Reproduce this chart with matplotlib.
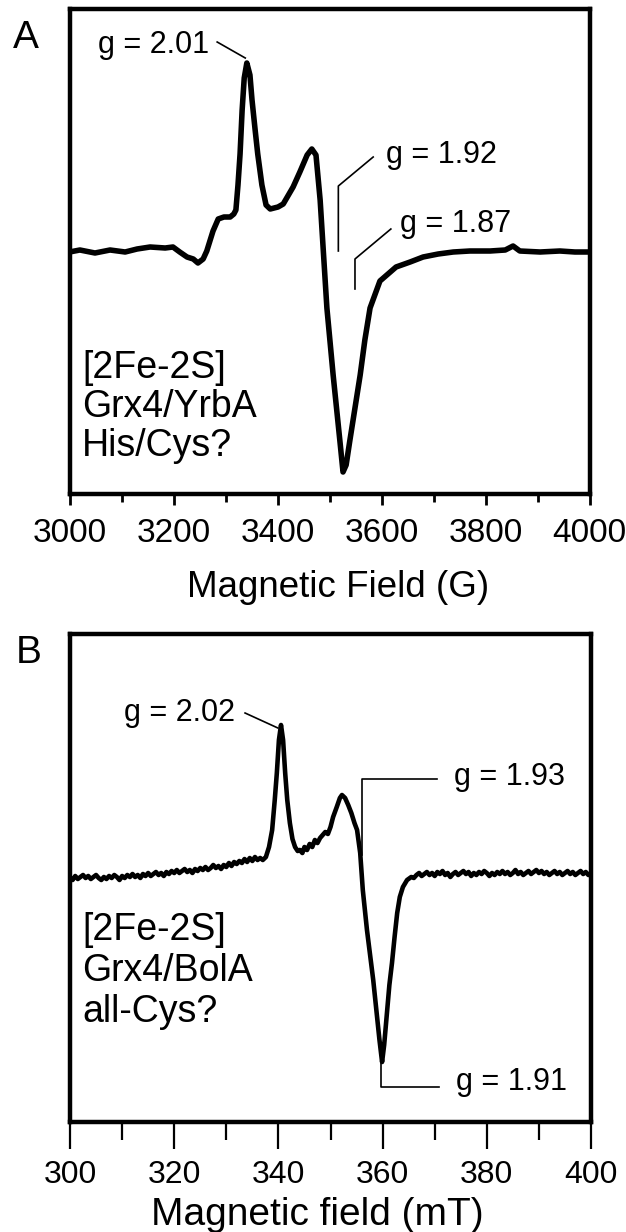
import matplotlib
matplotlib.use("Agg")
import matplotlib.pyplot as plt

plt.rcParams['font.family'] = ['Liberation Sans', 'DejaVu Sans']

# Panel A: Grx4/YrbA, field in G, intensity in arbitrary units
field_a = [3000, 3020, 3049, 3078, 3107, 3130, 3155, 3184, 3199, 3212, 3226, 3238,
           3247, 3257, 3264, 3276, 3286, 3297, 3309, 3316, 3320, 3324, 3328, 3332,
           3336, 3341, 3347, 3351, 3357, 3362, 3370, 3378, 3386, 3401, 3411, 3430,
           3443, 3457, 3466, 3474, 3482, 3488, 3495, 3507, 3520, 3526, 3532, 3539,
           3549, 3559, 3568, 3578, 3597, 3628, 3655, 3680, 3709, 3738, 3770, 3809,
           3838, 3853, 3866, 3905, 3943, 3972, 4000]
signal_a = [0, 2, -1, 2, 0, 3, 5, 4, 5, 0, -5, -7,
            -11, -7, 1, 21, 33, 35, 35, 38, 42, 67, 98, 142,
            174, 189, 177, 152, 122, 98, 67, 47, 43, 45, 48, 65,
            80, 97, 103, 97, 52, 2, -56, -123, -189, -220, -213, -189,
            -156, -123, -88, -56, -29, -15, -10, -5, -2, 0, 1, 1,
            2, 6, 1, 0, 1, 0, 0]

# Panel B: Grx4/BolA, field in mT (noisy trace read point by point)
field_b = [300, 300.5, 301, 301.5, 302, 302.5, 303, 303.5, 304, 304.5,
           305, 305.5, 306, 306.5, 307, 307.5, 308, 308.5, 309, 309.5,
           310, 310.5, 311, 311.5, 312, 312.5, 313, 313.5, 314, 314.5,
           315, 315.5, 316, 316.5, 317, 317.5, 318, 318.5, 319, 319.5,
           320, 320.5, 321, 321.5, 322, 322.5, 323, 323.5, 324, 324.5,
           325, 325.5, 326, 326.5, 327, 327.5, 328, 328.5, 329, 329.5,
           330, 330.5, 331, 331.5, 332, 332.5, 333, 333.5, 334, 334.5,
           335, 335.5, 336, 336.5, 337,
           337.6, 338.2, 338.8, 339.3, 339.7, 340.1, 340.5, 340.9, 341.3, 341.7,
           342.2, 342.7, 343.2, 343.7, 344.1, 344.6, 345, 345.5, 346, 346.5,
           347, 347.5, 348, 348.5, 349, 349.5, 350, 350.5, 351.2, 351.8,
           352.2, 352.8, 353.4, 354, 354.6, 355.1, 355.7, 356.2, 357.0, 357.6,
           358.2, 358.8, 359.4, 359.9, 360.3, 360.8, 361.3, 361.8, 362.3, 362.8,
           363.3, 363.9, 364.7, 365.5,
           366, 366.5, 367, 367.5, 368, 368.5, 369, 369.5, 370, 370.5,
           371, 371.5, 372, 372.5, 373, 373.5, 374, 374.5, 375, 375.5,
           376, 376.5, 377, 377.5, 378, 378.5, 379, 379.5, 380, 380.5,
           381, 381.5, 382, 382.5, 383, 383.5, 384, 384.5, 385, 385.5,
           386, 386.5, 387, 387.5, 388, 388.5, 389, 389.5, 390, 390.5,
           391, 391.5, 392, 392.5, 393, 393.5, 394, 394.5, 395, 395.5,
           396, 396.5, 397, 397.5, 398, 398.5, 399, 399.5, 400]
signal_b = [-2, -5, -1, -4, -2, 0, -3, -1, -4, -2,
            0, -3, -5, -2, -4, -1, -3, 0, -2, -5,
            -1, -3, 0, -2, 1, -2, 0, -3, 1, -1,
            2, -1, 1, 3, 0, 2, -1, 3, 1, 4,
            2, 5, 2, 4, 6, 3, 5, 2, 6, 4,
            7, 5, 8, 5, 7, 10, 7, 9, 6, 10,
            8, 12, 9, 13, 11, 14, 12, 16, 13, 17,
            14, 18, 15, 17, 15,
            18, 28, 45, 75, 102, 135, 150, 135, 102, 75,
            52, 36, 28, 24, 25, 22, 28, 25, 31, 28,
            35, 32, 37, 40, 43, 41, 48, 58, 68, 77,
            80, 77, 70, 62, 52, 45, 22, -15, -55, -80,
            -105, -135, -165, -187, -170, -140, -110, -88, -62, -38,
            -22, -12, -5, -2,
            -3, 0, 2, -1, 1, 3, 0, 2, -1, 3,
            1, 4, 0, 2, -2, 1, 3, 0, 2, 4,
            1, 3, -1, 2, 0, 3, 1, 4, 2, -1,
            2, 0, 3, 1, 4, 1, 3, 0, 2, 5,
            1, 3, 0, 2, 4, 1, 3, 5, 2, 4,
            1, 3, 0, 2, 4, 1, 3, 0, 2, 4,
            1, 3, 0, 2, 4, 1, 3, 0, 2]

ticks_a = [3000, 3200, 3400, 3600, 3800, 4000]
minor_a = [3100, 3300, 3500, 3700, 3900]
ticks_b = [300, 320, 340, 360, 380, 400]
minor_b = [310, 330, 350, 370, 390]

label_lines_a = ['[2Fe-2S]', 'Grx4/YrbA', 'His/Cys?']
label_lines_b = ['[2Fe-2S]', 'Grx4/BolA', 'all-Cys?']

W, H = 626, 1232
fig = plt.figure(figsize=(W / 100, H / 100), dpi=100)

axA = fig.add_axes([69.5 / W, 1 - 494 / H, 520 / W, 485 / H])
axB = fig.add_axes([70 / W, 1 - 1122 / H, 521 / W, 488 / H])

# --- panel A ---
axA.plot(field_a, signal_a, color='black', lw=4, solid_joinstyle='round')
axA.set_xlim(3000, 4000)
axA.set_ylim(-242, 243)
axA.set_xticks(ticks_a)
axA.set_xticks(minor_a, minor=True)
axA.set_yticks([])
axA.tick_params(axis='x', which='major', direction='out', length=8, width=2,
                pad=9, labelsize=24)
axA.tick_params(axis='x', which='minor', direction='out', length=5.5, width=2)

leader = dict(color='black', lw=1.2)
axA.plot([3284, 3338], [210, 194], **leader)
axA.text(3268, 199, 'g = 2.01', fontsize=22, ha='right', va='baseline')
axA.plot([3584, 3517, 3517], [95, 66, 1], **leader)
axA.text(3609, 89, 'g = 1.92', fontsize=22, ha='left', va='baseline')
axA.plot([3618, 3549, 3549], [23, -7, -37], **leader)
axA.text(3636, 20, 'g = 1.87', fontsize=22, ha='left', va='baseline')
for line, yv in zip(label_lines_a, [-126, -165, -204]):
    axA.text(3024, yv, line, fontsize=27, ha='left', va='baseline')

axA.set_xlabel('Magnetic Field (G)', fontsize=26.5, va='baseline')
axA.xaxis.set_label_coords(0.516, -0.212)

# --- panel B ---
axB.plot(field_b, signal_b, color='black', lw=3.3, solid_joinstyle='round')
axB.set_xlim(300, 400)
axB.set_ylim(-247, 241)
axB.set_xticks(ticks_b)
axB.set_xticks(minor_b, minor=True)
axB.set_yticks([])
axB.tick_params(axis='x', which='major', direction='out', length=19.5, width=1.6,
                pad=8, labelsize=23)
axB.tick_params(axis='x', which='minor', direction='out', length=13, width=1.6)

axB.plot([333.6, 339.9], [162, 147], **leader)
axB.text(331.7, 154, 'g = 2.02', fontsize=22, ha='right', va='baseline')
axB.plot([370.4, 356.0, 356.0], [96, 96, 20], **leader)
axB.text(373.7, 90, 'g = 1.93', fontsize=22, ha='left', va='baseline')
axB.plot([359.7, 359.7, 370.8], [-188, -212, -212], **leader)
axB.text(374.1, -215, 'g = 1.91', fontsize=22, ha='left', va='baseline')
for line, yv in zip(label_lines_b, [-65, -106, -147]):
    axB.text(302.3, yv, line, fontsize=27, ha='left', va='baseline')

axB.set_xlabel('Magnetic field (mT)', fontsize=28, va='baseline')
axB.xaxis.set_label_coords(0.474, -0.211)

for ax in (axA, axB):
    for sp in ax.spines.values():
        sp.set_linewidth(3.2)

fig.text(13 / W, 1 - 48 / H, 'A', fontsize=28, va='baseline')
fig.text(16 / W, 1 - 663 / H, 'B', fontsize=28, va='baseline')

fig.savefig('out.png', dpi=100)
